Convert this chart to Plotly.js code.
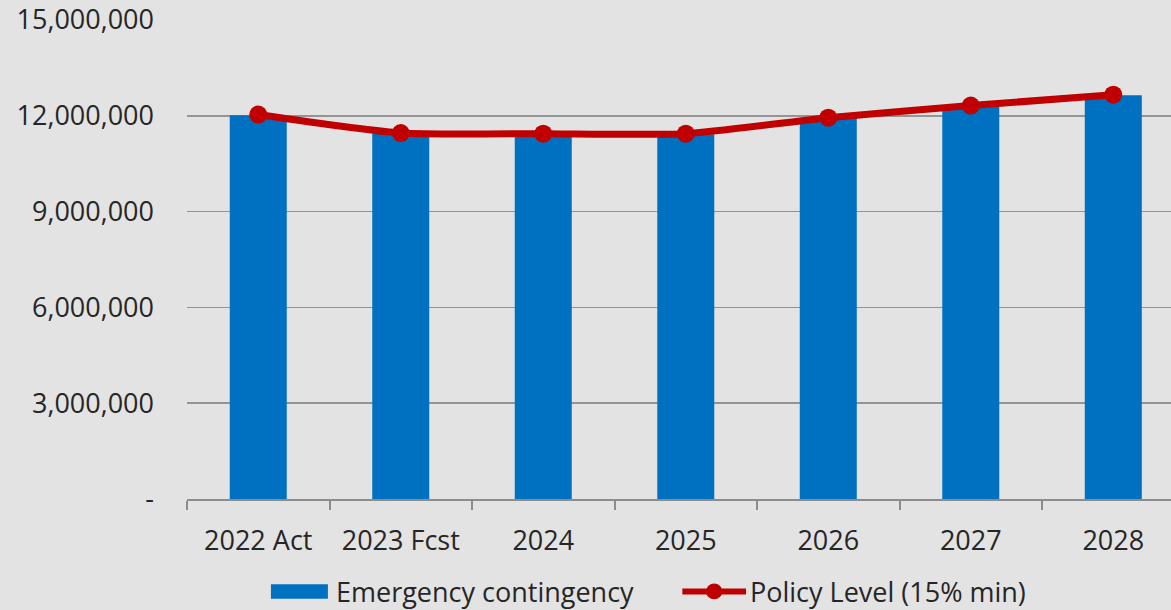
<!DOCTYPE html>
<html>
<head>
<meta charset="utf-8">
<script src="https://cdn.plot.ly/plotly-3.0.1.min.js"></script>
<style>
  html, body { margin: 0; padding: 0; background: #e3e3e3; }
  #chart { width: 1171px; height: 610px; }
</style>
</head>
<body>
<div id="chart"></div>
<script>
// Reserve balances by year
const years = ["2022 Act", "2023 Fcst", "2024", "2025", "2026", "2027", "2028"];
const contingency = [12020000, 11440000, 11390000, 11420000, 11920000, 12300000, 12640000];
const policyLevel = [12040000, 11460000, 11440000, 11440000, 11940000, 12320000, 12660000];

const barName = "Emergency contingency";
const lineName = "Policy Level (15% min)";

const yTickVals = [0, 3000000, 6000000, 9000000, 12000000, 15000000];
const yTickText = ["-", "3,000,000", "6,000,000", "9,000,000", "12,000,000", "15,000,000"];

const blue = "#0070c0";
const red = "#c00000";
const textColor = "#262626";
const font = "'Open Sans', sans-serif";
const fontSize = 27;

const traces = [
  {
    type: "bar",
    x: years,
    y: contingency,
    name: barName,
    marker: { color: blue },
    width: 0.4,
    showlegend: false,
    hoverinfo: "x+y"
  },
  {
    type: "scatter",
    mode: "lines+markers",
    x: years,
    y: policyLevel,
    name: lineName,
    line: { color: red, width: 7, shape: "spline", smoothing: 0.6 },
    marker: { color: red, size: 18 },
    showlegend: false,
    hoverinfo: "x+y"
  }
];

// Hand-drawn legend below the axis
const legendY = -0.193;
const shapes = [
  { type: "rect", xref: "paper", yref: "paper",
    x0: 0.0853, x1: 0.1432, y0: legendY - 0.015, y1: legendY + 0.015,
    fillcolor: blue, line: { width: 0 } },
  { type: "line", xref: "paper", yref: "paper",
    x0: 0.5034, x1: 0.5681, y0: legendY, y1: legendY,
    line: { color: red, width: 6 } },
  { type: "circle", xref: "paper", yref: "paper",
    x0: 0.5275, x1: 0.5440, y0: legendY - 0.0165, y1: legendY + 0.0165,
    fillcolor: red, line: { width: 0 } }
];
const annotations = [
  { xref: "paper", yref: "paper", x: 0.1495, y: legendY, text: barName,
    showarrow: false, xanchor: "left", yanchor: "middle",
    font: { family: font, size: fontSize, color: textColor } },
  { xref: "paper", yref: "paper", x: 0.5705, y: legendY, text: lineName,
    showarrow: false, xanchor: "left", yanchor: "middle",
    font: { family: font, size: fontSize, color: textColor } }
];

const layout = {
  width: 1171,
  height: 610,
  paper_bgcolor: "#e3e3e3",
  plot_bgcolor: "#e3e3e3",
  margin: { l: 187, r: 0, t: 20, b: 111 },
  showlegend: false,
  font: { family: font, size: fontSize, color: textColor },
  xaxis: {
    type: "category",
    range: [-0.5, 6.405],
    showline: true,
    linecolor: "#8c8c8c",
    linewidth: 2,
    ticks: "outside",
    tickson: "boundaries",
    ticklen: 9,
    tickwidth: 2,
    tickcolor: "#8c8c8c",
    showgrid: false,
    tickfont: { family: font, size: fontSize, color: textColor },
    ticklabelstandoff: 17
  },
  yaxis: {
    range: [0, 15000000],
    tickvals: yTickVals,
    ticktext: yTickText,
    showgrid: true,
    gridcolor: "#949494",
    gridwidth: 1.5,
    zeroline: false,
    showline: false,
    ticks: "",
    tickfont: { family: font, size: fontSize, color: textColor },
    ticklabelstandoff: 32
  },
  bargap: 0.6,
  shapes: shapes,
  annotations: annotations
};

Plotly.newPlot("chart", traces, layout, { displayModeBar: false, staticPlot: true });
</script>
</body>
</html>
